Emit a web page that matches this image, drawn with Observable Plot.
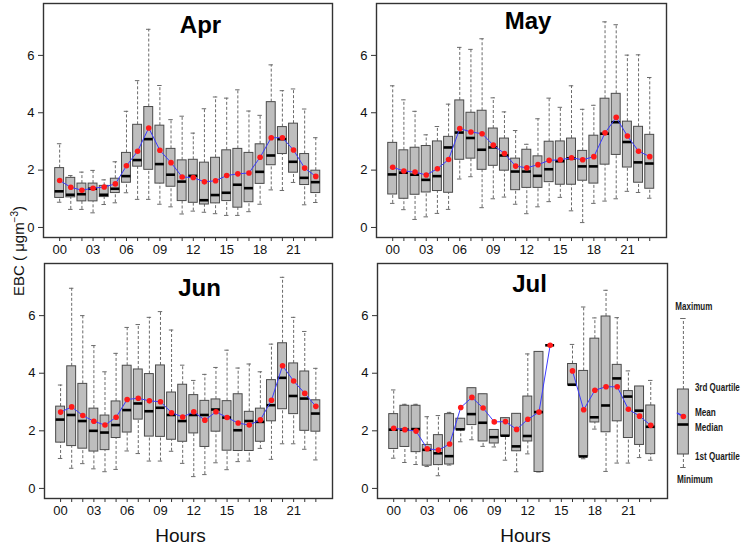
<!DOCTYPE html>
<html>
<head>
<meta charset="utf-8">
<script src="https://cdn.jsdelivr.net/npm/d3@7"></script>
<script src="https://cdn.jsdelivr.net/npm/@observablehq/plot@0.6"></script>
<style>
  html, body { margin: 0; padding: 0; background: #fff; }
  #wrap { position: relative; width: 741px; height: 544px; background: #fff; overflow: hidden; }
  #wrap > svg { position: absolute; }
  #ylab { position: absolute; width: 140px; height: 18px; line-height: 18px; left: -51px; top: 242px;
          transform: rotate(-90deg); transform-origin: 70px 9px; text-align: center;
          font: 15px "Liberation Sans", Arial, sans-serif; color: #111; white-space: nowrap; }
  #ylab sup { font-size: 10px; vertical-align: 6px; line-height: 0; }
</style>
</head>
<body>
<div id="wrap"><div id="ylab">EBC ( μgm<sup>−3</sup>)</div></div>
<script>
const hours = d3.range(24);
const tickLabelHours = [0, 3, 6, 9, 12, 15, 18, 21];

// ---- April ----
const aprMin    = [0.88,0.63,0.63,0.51,0.80,0.86,1.21,0.98,0.98,0.81,0.72,0.47,0.57,0.53,0.48,0.42,0.42,0.55,0.81,1.31,1.29,1.57,0.79,0.87];
const aprQ1     = [1.03,1.05,0.91,0.91,1.06,1.20,1.56,2.12,2.01,1.53,1.42,0.92,0.86,0.80,0.84,0.92,0.69,0.88,1.52,2.17,2.56,1.91,1.48,1.20];
const aprMedian = [1.26,1.14,1.16,1.35,1.14,1.35,1.79,2.35,3.08,2.21,1.84,1.60,1.80,0.95,1.13,1.21,1.49,1.37,1.94,2.51,3.08,2.29,1.73,1.58];
const aprQ3     = [2.07,1.73,1.53,1.53,1.45,1.70,2.60,3.58,4.20,3.55,2.74,2.34,2.36,2.26,2.43,2.69,2.74,2.60,2.90,4.37,3.50,3.62,2.56,1.98];
const aprMax    = [2.92,1.81,1.93,1.99,1.66,2.29,4.05,5.12,6.91,4.95,3.76,3.88,3.29,4.14,4.55,4.51,4.80,4.06,3.91,5.67,4.77,4.83,4.13,3.13];
const aprMean   = [1.64,1.40,1.30,1.37,1.41,1.52,2.15,2.66,3.47,2.69,2.26,1.76,1.74,1.59,1.63,1.81,1.87,1.90,2.45,3.13,3.13,2.70,2.07,1.78];

// ---- May ----
const mayMin    = [0.84,0.62,0.28,0.37,0.49,0.63,1.69,1.77,0.69,1.00,1.06,0.81,0.48,0.72,0.90,1.05,0.58,0.17,0.84,0.92,1.00,1.26,1.22,1.02];
const mayQ1     = [1.15,1.00,1.14,1.22,1.27,1.21,2.36,2.40,2.01,2.15,1.98,1.30,1.38,1.38,1.58,1.49,1.49,1.63,1.53,2.19,2.53,2.09,1.56,1.35];
const mayMedian = [1.85,1.91,1.84,1.66,1.79,2.79,3.31,3.12,2.71,2.79,2.51,1.95,1.95,1.80,2.03,2.31,2.41,2.13,2.13,3.27,3.67,2.98,2.27,2.23];
const mayQ3     = [2.95,2.69,2.78,2.84,3.00,3.16,4.43,4.00,4.07,3.45,3.10,2.40,2.71,2.48,2.99,3.00,3.10,2.67,3.20,4.49,4.66,3.69,3.51,3.23];
const mayMax    = [4.94,4.45,4.05,3.23,3.52,4.30,6.28,6.21,6.58,4.52,4.03,3.38,2.90,3.79,4.51,4.19,4.94,4.12,4.26,7.17,7.07,6.01,6.02,5.23];
const mayMean   = [2.10,1.97,1.93,1.83,2.05,2.37,3.45,3.33,3.27,2.87,2.58,2.14,2.08,2.19,2.34,2.36,2.43,2.36,2.47,3.30,3.84,3.19,2.66,2.47];

// ---- June ----
const junMin    = [1.04,0.70,0.86,0.68,0.58,0.66,1.30,1.21,0.95,0.95,1.29,0.87,0.41,0.48,0.89,0.65,0.93,0.95,1.39,1.01,1.55,1.55,1.36,0.99];
const junQ1     = [1.59,1.47,1.38,1.28,1.33,1.75,1.94,2.39,1.80,1.79,1.69,1.62,1.91,1.44,1.97,1.31,1.30,1.30,1.62,2.33,2.75,2.58,2.00,1.97];
const junMedian = [2.39,2.55,2.34,2.00,1.94,2.20,2.72,2.95,2.68,2.80,2.55,2.34,2.55,2.55,2.74,2.46,2.02,2.34,2.31,2.89,3.84,3.21,3.12,2.60];
const junQ3     = [2.84,4.24,3.63,2.77,2.53,3.02,4.26,4.13,3.97,4.27,3.33,3.60,3.24,3.04,3.09,3.03,3.27,2.66,2.77,3.76,5.04,4.34,4.06,3.06];
const junMax    = [3.59,6.95,6.00,4.96,4.05,4.69,5.59,5.69,5.94,6.14,5.50,4.28,3.75,3.96,4.20,4.80,4.18,4.32,4.05,5.01,7.33,5.94,5.45,4.17];
const junMean   = [2.65,2.83,2.53,2.33,2.20,2.47,3.09,3.13,3.04,3.01,2.63,2.48,2.66,2.37,2.66,2.46,2.27,2.20,2.38,3.06,4.26,3.73,3.30,2.85];

// ---- July (no data at 15h) ----
const julMin    = [1.05,0.90,0.83,0.76,0.44,0.81,1.62,1.69,1.46,1.44,0.98,0.58,1.20,0.57,4.97,null,3.60,1.03,2.06,0.59,0.88,0.88,1.07,0.98];
const julQ1     = [1.37,1.44,1.26,0.79,0.81,0.83,2.04,2.20,1.63,1.56,1.81,1.29,1.63,0.57,4.97,null,3.60,1.11,2.29,1.95,2.33,1.75,1.51,1.19];
const julMedian = [2.04,2.04,2.06,1.34,1.22,1.12,2.05,2.58,2.28,1.78,1.83,1.46,1.82,2.65,4.97,null,3.60,1.11,2.47,2.88,3.82,3.19,2.70,2.14];
const julQ3     = [2.58,2.87,2.87,1.51,1.85,2.58,2.42,3.48,3.27,2.03,2.44,2.59,3.19,4.74,4.97,null,4.32,4.08,5.20,5.97,4.29,3.38,3.54,2.88];
const julMax    = [3.42,2.92,2.92,2.49,2.53,2.64,2.43,3.48,3.27,2.03,2.44,2.59,4.67,4.74,4.97,null,5.00,6.30,5.92,6.88,5.93,4.08,3.54,3.75];
const julMean   = [2.09,2.04,1.99,1.38,1.33,1.54,2.81,3.16,2.79,2.31,2.32,2.05,2.40,2.65,4.97,null,4.08,2.73,3.41,3.53,3.53,2.75,2.51,2.19];

// ---- legend glyph (illustrative stats) ----
const legendMin = 0, legendQ1 = 13, legendMedian = 43, legendMean = 51, legendQ3 = 78, legendMax = 149;
const legendNames = ["Maximum", "3rd Quartile", "Mean", "Median", "1st Quartile", "Minimum"];

const FONT = '"Liberation Sans", Arial, Helvetica, sans-serif';
const BOX_FILL = "#bebebe", BOX_STROKE = "#4a4a4a", WHISK = "#6a6a6a";
const MEAN_LINE = "#3b3bff", MEAN_DOT = "#ff1a1a";
const HALF = 0.4, CAP = 0.2;

function rowsOf(mn, q1, md, q3, mx, me) {
  return hours.map((h, i) => ({hour: h, min: mn[i], q1: q1[i], median: md[i], q3: q3[i], max: mx[i], mean: me[i]}));
}

function panel(rows, o) {
  const boxes = rows.filter(d => d.q1 != null);
  const marks = [
    Plot.ruleX(boxes, {x: "hour", y1: "q3", y2: "max", stroke: WHISK, strokeWidth: 1, strokeDasharray: "3,2"}),
    Plot.ruleX(boxes, {x: "hour", y1: "min", y2: "q1", stroke: WHISK, strokeWidth: 1, strokeDasharray: "3,2"}),
    Plot.ruleY(boxes, {y: "max", x1: d => d.hour - CAP, x2: d => d.hour + CAP, stroke: WHISK, strokeWidth: 1}),
    Plot.ruleY(boxes, {y: "min", x1: d => d.hour - CAP, x2: d => d.hour + CAP, stroke: WHISK, strokeWidth: 1}),
    Plot.rect(boxes, {x1: d => d.hour - HALF, x2: d => d.hour + HALF, y1: "q1", y2: "q3", fill: BOX_FILL, stroke: BOX_STROKE, strokeWidth: 1}),
    Plot.ruleY(boxes, {y: "median", x1: d => d.hour - HALF, x2: d => d.hour + HALF, stroke: "#000", strokeWidth: 2.6}),
    Plot.line(rows, {x: "hour", y: "mean", stroke: MEAN_LINE, strokeWidth: 1}),
    Plot.dot(boxes, {x: "hour", y: "mean", r: 2.8, fill: MEAN_DOT, stroke: "none"}),
    Plot.frame({stroke: "#333", strokeWidth: 1.4}),
    Plot.axisY({ticks: [0, 2, 4, 6], tickSize: 5, tickPadding: 4, fontSize: 13, label: null, stroke: "#333"}),
    Plot.axisX({ticks: hours, tickSize: 4, tickPadding: 3, fontSize: 13, label: null, stroke: "#333",
                tickFormat: d => tickLabelHours.includes(d) ? String(d).padStart(2, "0") : ""}),
    Plot.text([o.title], {text: d => d, frameAnchor: "top", dx: o.tdx, dy: o.tdy, lineAnchor: "bottom",
                          fontSize: 24, fontWeight: "bold", fill: "#000"})
  ];
  if (o.xlabel) {
    marks.push(Plot.text(["Hours"], {text: d => d, frameAnchor: "bottom", dx: o.ldx, dy: 43, lineAnchor: "bottom",
                                     fontSize: 19, fill: "#111"}));
  }
  const svg = Plot.plot({
    width: o.width, height: o.height,
    marginLeft: 43, marginRight: o.mr, marginTop: 3, marginBottom: o.mb,
    x: {domain: [-1.45, 24.5]},
    y: {domain: [-0.35, 7.81]},
    style: {fontFamily: FONT, color: "#111", background: "transparent", overflow: "visible"},
    marks
  });
  svg.style.left = o.left + "px";
  svg.style.top = o.top + "px";
  document.getElementById("wrap").appendChild(svg);
}

panel(rowsOf(aprMin, aprQ1, aprMedian, aprQ3, aprMax, aprMean),
  {title: "Apr", left: 0, top: 0, width: 370, height: 260, mr: 38, mb: 23, tdx: 12.5, tdy: 29});
panel(rowsOf(mayMin, mayQ1, mayMedian, mayQ3, mayMax, mayMean),
  {title: "May", left: 333, top: 0, width: 370, height: 260, mr: 37, mb: 23, tdx: 6.5, tdy: 25.5});
panel(rowsOf(junMin, junQ1, junMedian, junQ3, junMax, junMean),
  {title: "Jun", left: 1, top: 260, width: 370, height: 284, mr: 39, mb: 46, tdx: 11, tdy: 32, xlabel: true, ldx: -8});
panel(rowsOf(julMin, julQ1, julMedian, julQ3, julMax, julMean),
  {title: "Jul", left: 334, top: 260, width: 370, height: 284, mr: 37, mb: 46, tdx: 7, tdy: 28.7, xlabel: true, ldx: 3});

// ---- legend ----
(function legend() {
  const g = [{x: 0, min: legendMin, q1: legendQ1, median: legendMedian, mean: legendMean, q3: legendQ3, max: legendMax}];
  const LF = {fontFamily: FONT, fontSize: 10, fontWeight: "bold", fill: "#1a1a1a"};
  const svg = Plot.plot({
    width: 91, height: 200, marginLeft: 0, marginRight: 0, marginTop: 28, marginBottom: 23,
    x: {domain: [-3, 5.3], axis: null},
    y: {domain: [0, 149], axis: null},
    style: {background: "transparent", overflow: "visible"},
    marks: [
      Plot.ruleX(g, {x: "x", y1: "q3", y2: "max", stroke: WHISK, strokeDasharray: "3,2"}),
      Plot.ruleX(g, {x: "x", y1: "min", y2: "q1", stroke: WHISK, strokeDasharray: "3,2"}),
      Plot.ruleY(g, {y: "max", x1: d => d.x - 0.25, x2: d => d.x + 0.25, stroke: WHISK}),
      Plot.ruleY(g, {y: "min", x1: d => d.x - 0.25, x2: d => d.x + 0.25, stroke: WHISK}),
      Plot.rect(g, {x1: d => d.x - 0.5, x2: d => d.x + 0.5, y1: "q1", y2: "q3", fill: BOX_FILL, stroke: BOX_STROKE}),
      Plot.ruleY(g, {y: "median", x1: d => d.x - 0.5, x2: d => d.x + 0.5, stroke: "#000", strokeWidth: 2.6}),
      Plot.line([{x: -0.55, y: legendMean + 3.3}, {x: 0, y: legendMean}], {x: "x", y: "y", stroke: MEAN_LINE}),
      Plot.dot(g, {x: "x", y: "mean", r: 2.8, fill: MEAN_DOT}),
      Plot.text(g, {x: 0.95, y: "max", text: () => legendNames[0], dy: -12, textAnchor: "middle", ...LF}),
      Plot.text(g, {x: 1.05, y: "q3", text: () => legendNames[1], dy: -2, textAnchor: "start", ...LF}),
      Plot.text(g, {x: 1.05, y: "mean", text: () => legendNames[2], dy: -4, textAnchor: "start", ...LF}),
      Plot.text(g, {x: 1.05, y: "median", text: () => legendNames[3], dy: 3, textAnchor: "start", ...LF}),
      Plot.text(g, {x: 1.05, y: "q1", text: () => legendNames[4], dy: 2, textAnchor: "start", ...LF}),
      Plot.text(g, {x: 1.05, y: "min", text: () => legendNames[5], dy: 12, textAnchor: "middle", ...LF})
    ]
  });
  svg.style.left = "650px";
  svg.style.top = "290px";
  document.getElementById("wrap").appendChild(svg);
  // condensed look of the reference legend labels: horizontal scaling about each label's anchor
  const widths = {"Maximum": 37, "3rd Quartile": 45, "Mean": 21, "Median": 28, "1st Quartile": 45, "Minimum": 36};
  d3.select(svg).selectAll("text").each(function () {
    const w = widths[this.textContent.trim()];
    if (!w) return;
    const natural = this.getComputedTextLength();
    if (!natural) return;
    const k = Math.min(1, w / natural);
    const t = this.getAttribute("transform");
    if (t) {
      this.setAttribute("transform", t + ` scale(${k},1)`);
    } else {
      const x = +(this.getAttribute("x") || 0);
      this.setAttribute("transform", `translate(${x},0) scale(${k},1) translate(${-x},0)`);
    }
  });
})();
</script>
</body>
</html>
